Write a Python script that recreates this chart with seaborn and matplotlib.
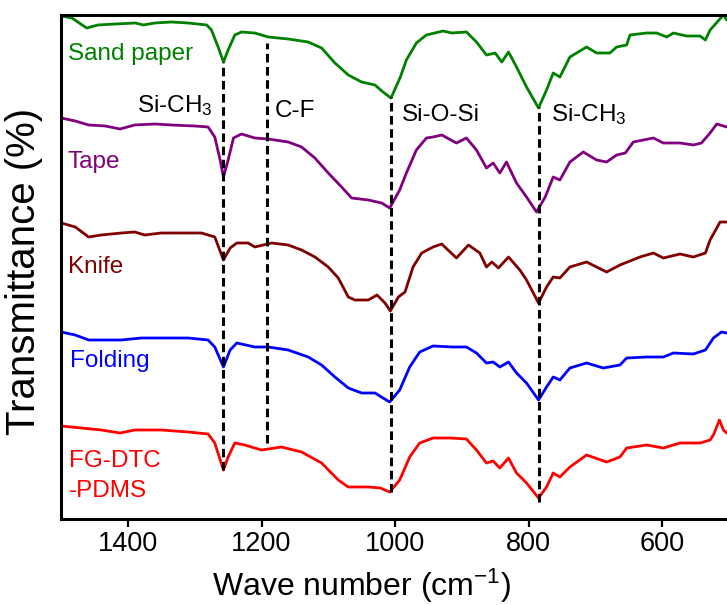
import matplotlib
matplotlib.use("Agg")
import matplotlib.pyplot as plt
import seaborn as sns
import pandas as pd
from matplotlib import font_manager

# FTIR spectra (wavenumber in cm-1, transmittance in arbitrary offset units)
sand_wn = [1500, 1484, 1462, 1445, 1419, 1389, 1377, 1360, 1335, 1310, 1282, 1275, 1265, 1257, 1250,
           1240, 1230, 1210, 1190, 1160, 1130, 1110, 1090, 1070, 1050, 1030, 1018, 1006, 992, 983,
           968, 953, 928, 915, 893, 878, 863, 850, 840, 830, 818, 803, 785, 773, 763,
           753, 738, 713, 698, 678, 668, 653, 648, 623, 608, 593, 583, 563, 543, 535,
           528, 508, 503]
sand_t = [503, 501, 491, 494, 495, 496, 494, 496, 497, 496, 494, 489, 472, 457, 469,
          484, 487, 486, 482, 480, 477, 471, 456, 444, 437, 434, 427, 421, 442, 459,
          476, 484, 488, 486, 487, 477, 464, 466, 457, 467, 452, 432, 411, 429, 446,
          442, 462, 472, 466, 466, 472, 474, 484, 486, 486, 482, 486, 483, 483, 479,
          489, 504, 499]

tape_wn = [1500, 1479, 1459, 1434, 1412, 1390, 1360, 1335, 1300, 1280, 1270, 1262, 1257, 1250, 1242,
           1230, 1210, 1190, 1160, 1140, 1120, 1100, 1080, 1065, 1040, 1020, 1008, 993, 983, 968,
           953, 943, 930, 908, 893, 878, 863, 853, 843, 833, 818, 803, 788, 775, 763,
           753, 738, 718, 698, 683, 668, 655, 643, 613, 598, 573, 553, 541, 528, 518,
           503]
tape_t = [401, 398, 394, 393, 390, 394, 395, 394, 393, 392, 382, 359, 342, 359, 381,
          385, 381, 380, 377, 372, 361, 346, 332, 321, 319, 316, 311, 329, 346, 369,
          381, 382, 384, 376, 381, 369, 351, 356, 346, 357, 336, 322, 307, 322, 342,
          339, 357, 367, 359, 357, 364, 366, 377, 381, 376, 376, 374, 376, 386, 395,
          392]

knife_wn = [1500, 1479, 1459, 1440, 1410, 1390, 1375, 1350, 1320, 1290, 1270, 1257, 1247, 1237, 1220,
            1210, 1185, 1160, 1140, 1120, 1100, 1085, 1070, 1060, 1040, 1027, 1015, 1007, 995, 985,
            973, 960, 943, 930, 908, 890, 873, 863, 855, 845, 830, 813, 803, 785, 773,
            763, 753, 738, 713, 683, 663, 633, 613, 598, 573, 553, 535, 528, 513, 503]
knife_t = [296, 292, 282, 284, 286, 287, 284, 286, 286, 286, 282, 259, 271, 276, 276,
           272, 276, 274, 269, 262, 252, 241, 222, 219, 219, 224, 216, 208, 222, 227,
           252, 266, 272, 275, 261, 274, 266, 252, 257, 251, 262, 249, 239, 216, 232,
           242, 241, 252, 257, 247, 254, 262, 266, 261, 265, 262, 266, 279, 297, 297]

fold_wn = [1500, 1479, 1459, 1440, 1410, 1380, 1345, 1310, 1280, 1270, 1257, 1247, 1237, 1210, 1190,
           1160, 1130, 1110, 1090, 1070, 1050, 1030, 1018, 1008, 993, 978, 963, 943, 913, 893,
           878, 863, 853, 843, 830, 818, 803, 785, 773, 763, 753, 738, 713, 688, 663,
           653, 623, 598, 583, 553, 535, 523, 511, 503]
fold_t = [187, 184, 179, 179, 179, 181, 181, 181, 179, 172, 152, 169, 176, 172, 172,
          169, 162, 154, 142, 131, 126, 126, 121, 117, 129, 152, 167, 173, 172, 172,
          166, 156, 157, 152, 157, 146, 136, 119, 132, 142, 139, 151, 156, 151, 154,
          161, 162, 162, 166, 165, 169, 181, 187, 186]

fg_wn = [1500, 1470, 1440, 1412, 1390, 1350, 1310, 1280, 1270, 1257, 1250, 1240, 1225, 1200, 1170,
         1140, 1110, 1085, 1070, 1040, 1022, 1008, 993, 978, 963, 943, 918, 893, 878, 863,
         853, 843, 830, 818, 803, 785, 773, 763, 753, 738, 713, 683, 663, 653, 623,
         598, 573, 543, 528, 523, 514, 508, 503]
fg_t = [93, 91, 89, 86, 89, 89, 87, 85, 76, 49, 62, 76, 74, 69, 72,
        67, 56, 39, 32, 32, 31, 27, 39, 62, 76, 81, 81, 80, 69, 56,
        58, 51, 61, 46, 36, 21, 32, 46, 42, 52, 64, 57, 62, 71, 74,
        71, 76, 76, 79, 84, 99, 89, 86]

samples = ["Sand paper", "Tape", "Knife", "Folding", "FG-DTC-PDMS"]
colors = ["#008000", "#800080", "#800000", "#0000ff", "#ff0000"]

# bands marked with dashed lines: wavenumber, lower and upper end
band_wn = [1257, 1192, 1006, 785]
band_lo = [49, 76, 27, 17]
band_hi = [457, 476, 422, 412]
band_names = ["Si-CH$_3$", "C-F", "Si-O-Si", "Si-CH$_3$"]

frames = []
for name, wn, t in zip(samples,
                       [sand_wn, tape_wn, knife_wn, fold_wn, fg_wn],
                       [sand_t, tape_t, knife_t, fold_t, fg_t]):
    frames.append(pd.DataFrame({"wn": wn, "t": t, "sample": name}))
df = pd.concat(frames, ignore_index=True)

sns.set_theme(style="ticks")
plt.rcParams["font.family"] = ["Liberation Sans", "DejaVu Sans"]
plt.rcParams["mathtext.default"] = "regular"

names = {f.name for f in font_manager.fontManager.ttflist}
if "Liberation Sans Narrow" in names:
    tick_font = ["Liberation Sans Narrow", "Liberation Sans"]
    tick_size = 22
else:
    tick_font = ["Liberation Sans", "DejaVu Sans"]
    tick_size = 19.5

fig = plt.figure(figsize=(7.27, 6.05), dpi=100)
ax = fig.add_axes([0.08425, 0.14215, 0.9182, 0.83306])

sns.lineplot(data=df, x="wn", y="t", hue="sample", hue_order=samples,
             palette=dict(zip(samples, colors)), estimator=None,
             linewidth=2.0, legend=False, ax=ax)

for w, lo, hi in zip(band_wn, band_lo, band_hi):
    ax.plot([w, w], [lo, hi], color="black", lw=2.2, linestyle=(0, (2.8, 1.5)))

ax.set_xlim(1500, 500)
ax.set_ylim(0, 504)
ax.set_xticks([1400, 1200, 1000, 800, 600])
ax.set_yticks([])

for s in ax.spines.values():
    s.set_linewidth(2.2)
    s.set_color("black")
ax.tick_params(axis="x", direction="out", length=6, width=1.6, pad=3,
               labelsize=tick_size, colors="black")
for lab in ax.get_xticklabels():
    lab.set_family(tick_font)

# sample labels
lab_size = 17.5
ax.text(1490, 459, "Sand paper", color=colors[0], fontsize=lab_size, ha="left", va="baseline")
ax.text(1491, 351, "Tape", color=colors[1], fontsize=lab_size, ha="left", va="baseline")
ax.text(1490, 246, "Knife", color=colors[2], fontsize=lab_size, ha="left", va="baseline")
ax.text(1487, 152, "Folding", color=colors[3], fontsize=lab_size, ha="left", va="baseline")
ax.text(1489, 52, "FG-DTC", color=colors[4], fontsize=lab_size, ha="left", va="baseline")
ax.text(1489, 22, "-PDMS", color=colors[4], fontsize=lab_size, ha="left", va="baseline")

# band labels
ax.text(1386, 407, band_names[0], fontsize=lab_size, ha="left", va="baseline", color="black")
ax.text(1180, 402, band_names[1], fontsize=lab_size, ha="left", va="baseline", color="black")
ax.text(989, 398, band_names[2], fontsize=lab_size, ha="left", va="baseline", color="black")
ax.text(766, 398, band_names[3], fontsize=lab_size, ha="left", va="baseline", color="black")

ax.set_xlabel("Wave number (cm$^{-1}$)", fontsize=23, color="black", va="baseline")
ax.xaxis.set_label_coords(0.45, -0.152)
ax.set_ylabel("Transmittance (%)", fontsize=29, color="black", va="center")
ax.yaxis.set_label_coords(-0.056, 0.492)

fig.savefig("out.png", dpi=100)
